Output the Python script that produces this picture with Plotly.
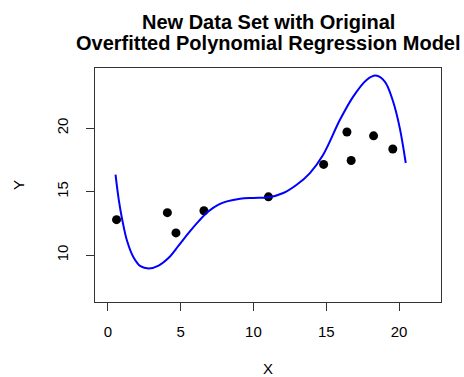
import plotly.graph_objects as go

# observed data points
x_pts = [0.6, 4.09, 4.68, 6.6, 11.03, 14.82, 16.42, 16.71, 18.25, 19.57]
y_pts = [12.8, 13.35, 11.76, 13.5, 14.6, 17.15, 19.7, 17.46, 19.4, 18.36]

# fitted curve
x_curve = [0.53, 0.75, 0.99, 1.33, 1.78, 2.24, 2.81, 3.49, 4.18, 4.86, 5.55, 6.23, 6.92,
           7.60, 8.18, 9.09, 10.0, 11.03, 12.05, 12.97, 13.88, 14.79, 15.94, 16.85,
           17.77, 18.40, 19.02, 19.59, 20.05, 20.46]
y_curve = [16.34, 14.38, 12.80, 11.10, 9.80, 9.14, 8.96, 9.19, 9.80, 10.76, 11.76, 12.67,
           13.46, 13.98, 14.24, 14.45, 14.51, 14.56, 14.90, 15.55, 16.47, 17.91, 20.66,
           22.49, 23.80, 24.14, 23.67, 22.10, 20.01, 17.26]

x_ticks = [0, 5, 10, 15, 20]
y_ticks = [10, 15, 20]
title_lines = ["New Data Set with Original", "Overfitted Polynomial Regression Model"]

FONT = "Liberation Sans, Arial, sans-serif"

fig = go.Figure()
fig.add_trace(go.Scatter(x=x_pts, y=y_pts, mode="markers",
                         marker=dict(color="black", size=9), showlegend=False))
fig.add_trace(go.Scatter(x=x_curve, y=y_curve, mode="lines",
                         line=dict(color="blue", width=2, shape="spline"), showlegend=False))

axis_common = dict(showgrid=False, zeroline=False, showline=True, mirror=True,
                   linecolor="#333333", linewidth=1, ticks="outside", ticklen=8,
                   tickcolor="#333333", automargin=False,
                   tickfont=dict(family=FONT, size=15, color="black"))

for i, (txt, yy) in enumerate(zip(title_lines, [1.197, 1.107])):
    fig.add_annotation(text="<b>%s</b>" % txt, x=0.5, xref="paper", xanchor="center",
                       y=yy, yref="paper", yanchor="middle", showarrow=False,
                       font=dict(family=FONT, size=20, color="black"))

fig.update_layout(
    width=464, height=377,
    margin=dict(l=95, r=23, t=68, b=75),
    paper_bgcolor="white", plot_bgcolor="white",
    font=dict(family=FONT, color="black"),
    xaxis=dict(range=[-0.88, 22.88], tickvals=x_ticks, ticklabelstandoff=8,
               title=dict(text="X", font=dict(family=FONT, size=15), standoff=26),
               **axis_common),
    yaxis=dict(range=[6.32, 24.74], tickvals=y_ticks, tickangle=-90, ticklabelstandoff=12,
               title=dict(text="Y", font=dict(family=FONT, size=15), standoff=25),
               **axis_common),
)

fig.write_html("out.html", config={"displayModeBar": False},
               post_script="document.body.style.margin='0px';document.body.style.overflow='hidden';")
